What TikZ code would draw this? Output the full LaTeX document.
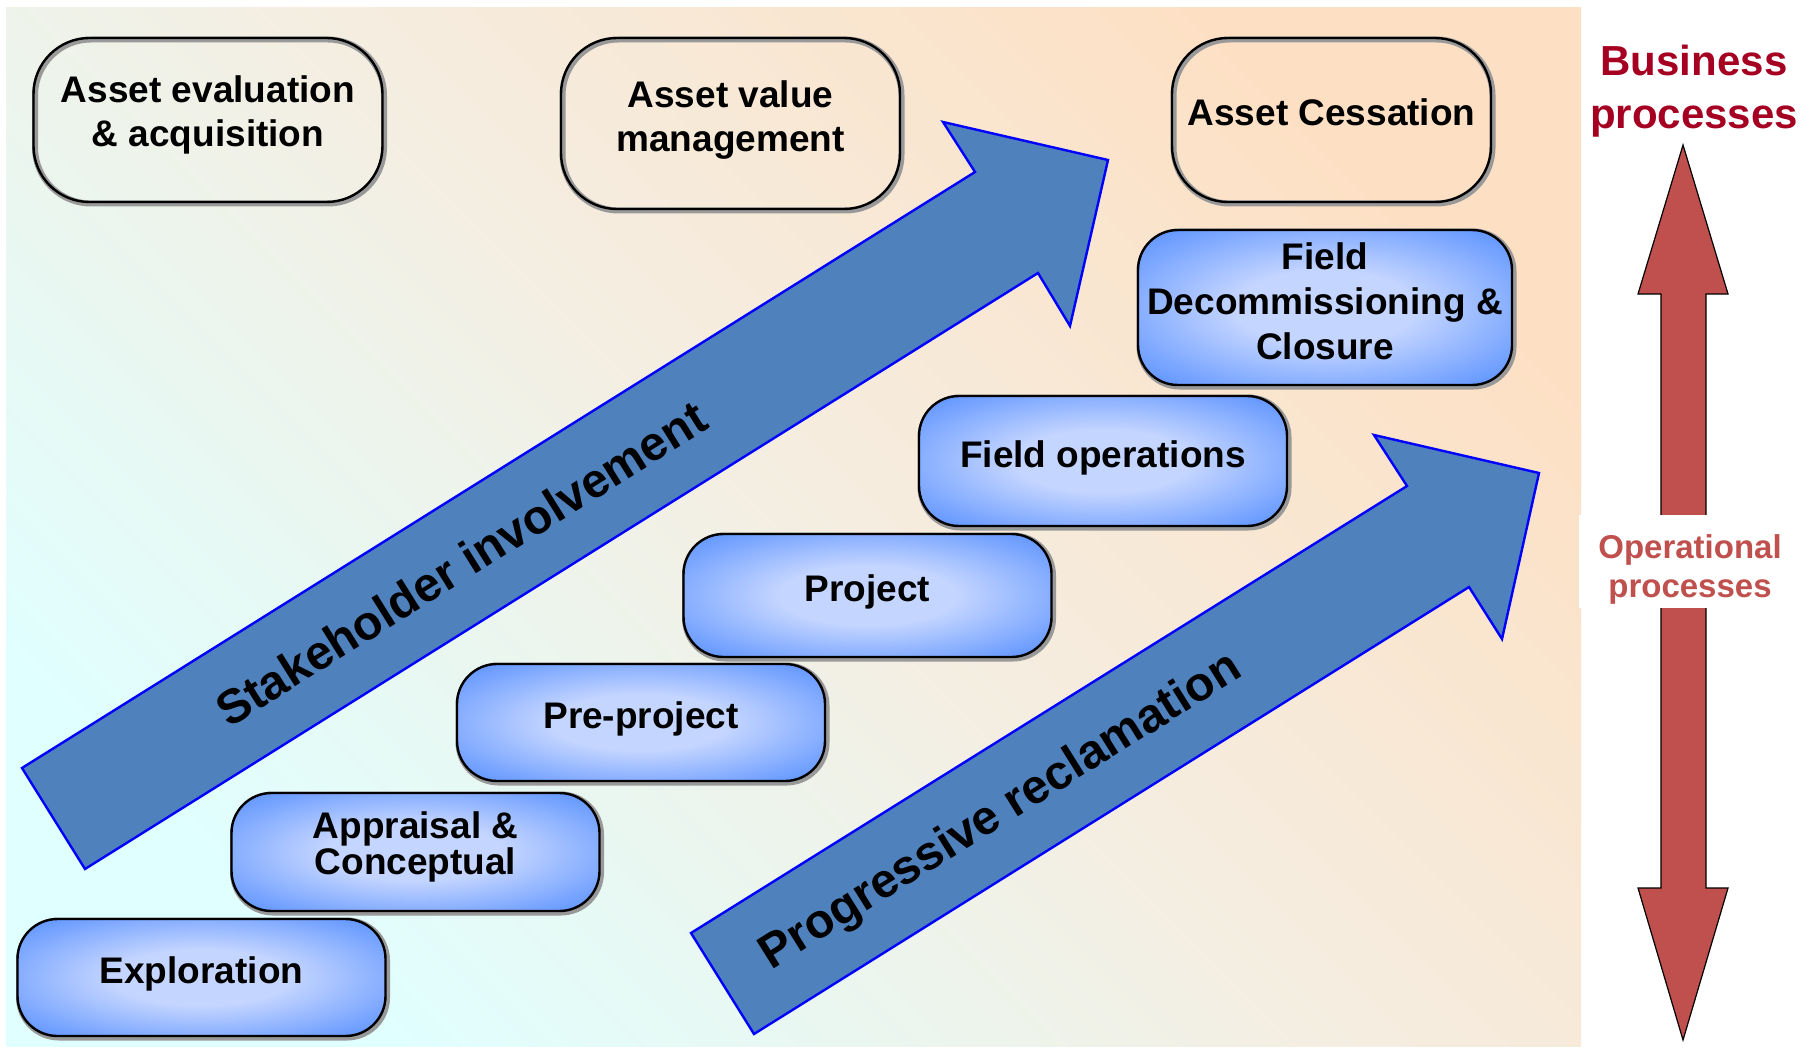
\documentclass[tikz,border=0pt]{standalone}
\usepackage{fontspec}
\setmainfont{Liberation Sans}
\definecolor{bgcyan}{RGB}{224,255,255}
\definecolor{bgmid}{RGB}{244,238,226}
\definecolor{bgpeach}{RGB}{253,224,196}
\definecolor{bxedge}{RGB}{102,153,255}
\definecolor{bxcore}{RGB}{196,213,255}
\definecolor{flowfill}{RGB}{79,129,189}
\definecolor{flowline}{RGB}{0,0,255}
\definecolor{procred}{RGB}{192,80,77}
\definecolor{busred}{RGB}{165,0,33}
\pgfdeclareradialshading{boxglow}{\pgfpoint{0bp}{0bp}}{color(0bp)=(bxcore); color(12bp)=(bxcore); color(32bp)=(bxedge); color(50bp)=(bxedge)}
\tikzset{
	halo/.style={preaction={draw=black!40, line width=3pt, transform canvas={shift={(1.5,1.5)}}}},
	lifted/.style={text depth=#1},
	assetbox/.style={halo, draw=black, line width=1.2pt, rounded corners=28pt, align=center, inner sep=2pt, font=\bfseries\fontsize{18.5}{22}\selectfont},
	phasebox/.style={halo, draw=black, line width=1.2pt, rounded corners=20pt, shade, shading=boxglow, minimum width=184pt, align=center, inner sep=2pt, font=\bfseries\fontsize{18.5}{22.5}\selectfont},
	flowarrow/.style={fill=flowfill, draw=flowline, line width=1.2pt},
	flowtext/.style={rotate=32, anchor=base, font=\bfseries\fontsize{24}{27}\selectfont}
}
\begin{document}
\begin{tikzpicture}[x=0.5pt, y=-0.5pt]
	\useasboundingbox (0,0) rectangle (1802,1048);
	\shade[bottom color=bgcyan, top color=bgpeach, middle color=bgmid, shading angle=-45] (6,8) rectangle (1581,1046);
	\draw[flowarrow] (22,768) -- (975,172) -- (943,122) -- (1108,160) -- (1070,326) -- (1038,273) -- (85,869) -- cycle;
	\draw[flowarrow] (691,933) -- (1407,486) -- (1374,435) -- (1539,473) -- (1502,639) -- (1469,587) -- (754,1034) -- cycle;
	\node (stake) [flowtext] at (470,578) {Stakeholder involvement};
	\node (reclaim) [flowtext] at (1008,823) {Progressive reclamation};
	\node (evaluate) [assetbox, lifted=8.5pt, minimum width=174.5pt, minimum height=82pt] at (208,120) {Asset evaluation\\\& acquisition};
	\node (valuemgmt) [assetbox, lifted=7.5pt, minimum width=169.5pt, minimum height=85.5pt] at (730.5,123.5) {Asset value\\management};
	\node (cessation) [assetbox, lifted=8pt, minimum width=159.5pt, minimum height=82pt] at (1331.5,120) {Asset Cessation};
	\node (explore) [phasebox, lifted=7.3pt, minimum height=58.5pt] at (201.5,977.5) {Exploration};
	\node (appraise) [phasebox, lifted=9pt, minimum height=59pt, font=\bfseries\fontsize{18.5}{16.5}\selectfont] at (415.5,852) {Appraisal \&\\Conceptual};
	\node (preproj) [phasebox, lifted=7.3pt, minimum height=58.5pt] at (641,722.5) {Pre-project};
	\node (project) [phasebox, lifted=7.3pt, minimum height=61.5pt] at (867.5,595.5) {Project};
	\node (fieldops) [phasebox, lifted=7.3pt, minimum height=65pt] at (1103,461) {Field operations};
	\node (decomm) [phasebox, lifted=6pt, minimum width=187pt, minimum height=77.5pt] at (1325,307.5) {Field\\Decommissioning \&\\Closure};
	\draw[fill=procred, draw=black, line width=0.6pt] (1683,145) -- (1728,294) -- (1706,294) -- (1706,888) -- (1728,888) -- (1683,1040) -- (1638,888) -- (1661,888) -- (1661,294) -- (1638,294) -- cycle;
	\node (busproc) [text=busred, align=center, font=\bfseries\fontsize{21}{26.5}\selectfont] at (1694,91) {Business\\processes};
	\node (opbox) [fill=white, minimum width=111.5pt, minimum height=46.5pt] at (1690,561) {};
	\node (opproc) [text=procred, align=center, font=\bfseries\fontsize{16.5}{19.5}\selectfont] at (1690,569) {Operational\\processes};
\end{tikzpicture}
\end{document}
